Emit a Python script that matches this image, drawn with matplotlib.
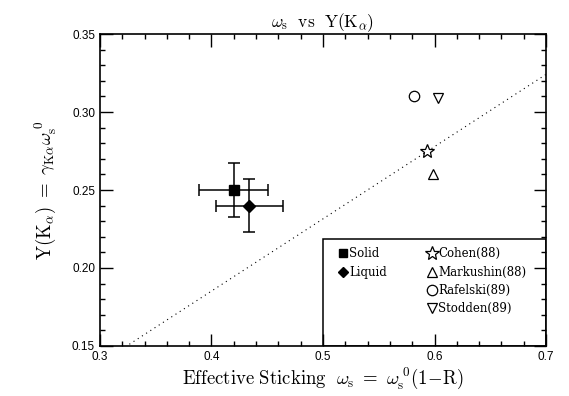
import matplotlib
matplotlib.use("Agg")
import matplotlib.pyplot as plt
from matplotlib.lines import Line2D
from matplotlib.patches import Rectangle
import numpy as np

plt.rcParams['mathtext.fontset'] = 'cm'

# measured points (this work)
solid_x, solid_y = 0.420, 0.250
solid_xerr, solid_yerr = 0.031, 0.017
liquid_x, liquid_y = 0.434, 0.240
liquid_xerr, liquid_yerr = 0.030, 0.017

# theory predictions
theory_names = ["Cohen(88)", "Markushin(88)", "Rafelski(89)", "Stodden(89)"]
theory_x = [0.593, 0.599, 0.582, 0.603]
theory_y = [0.275, 0.260, 0.310, 0.309]
theory_markers = ["*", "^", "o", "v"]

# dotted reference line  Y = slope * omega_s
slope = 0.463
line_x = np.array([0.3, 0.7])

fig = plt.figure(figsize=(5.69, 3.96), dpi=100)
ax = fig.add_axes([0.1757, 0.1263, 0.7839, 0.7878])

ax.plot(line_x, slope * line_x, linestyle=(0, (1, 3.5)), color="black", lw=0.8)

ax.errorbar(solid_x, solid_y, xerr=solid_xerr, yerr=solid_yerr, fmt="s",
            color="black", ms=6.5, capsize=4, elinewidth=1.1, capthick=1.1)
ax.errorbar(liquid_x, liquid_y, xerr=liquid_xerr, yerr=liquid_yerr, fmt="D",
            color="black", ms=6, capsize=4, elinewidth=1.1, capthick=1.1)

for x, y, m in zip(theory_x, theory_y, theory_markers):
    size = 10 if m == "*" else 7.5
    ax.plot(x, y, marker=m, ms=size, mfc="white", mec="black", mew=0.9,
            linestyle="none")

ax.set_xlim(0.3, 0.7)
ax.set_ylim(0.15, 0.35)
ax.set_xticks([0.3, 0.4, 0.5, 0.6, 0.7])
ax.set_yticks([0.15, 0.20, 0.25, 0.30, 0.35])
ax.set_xticks(np.arange(0.3, 0.7001, 0.02), minor=True)
ax.set_yticks(np.arange(0.15, 0.3501, 0.01), minor=True)
ax.xaxis.set_major_formatter(matplotlib.ticker.FormatStrFormatter("%.1f"))
ax.yaxis.set_major_formatter(matplotlib.ticker.FormatStrFormatter("%.2f"))
ax.tick_params(which="both", direction="in", top=True, right=True,
               labelsize=8.5, width=1)
ax.tick_params(which="major", length=9)
ax.tick_params(which="minor", length=3.5)
for lab in ax.get_xticklabels() + ax.get_yticklabels():
    lab.set_family("Liberation Sans")
for s in ax.spines.values():
    s.set_linewidth(1.2)

ax.set_title(r"$\omega_{\rm s}\ \ {\rm vs}\ \ {\rm Y(K_\alpha)}$", fontsize=12.5, pad=4)
ax.set_xlabel(r"$\rm Effective\ Sticking\ \ \omega_s\ =\ \omega_s^{\ 0}(1\!-\!R)$",
              fontsize=13.5, labelpad=2)
ax.set_ylabel(r"$\rm Y(K_\alpha)\ =\ \gamma_{K\alpha}\omega_s^{\ 0}$",
              fontsize=13.5, labelpad=10)

# legend box drawn in data space
ax.add_patch(Rectangle((0.5, 0.15), 0.2, 0.0688, fill=False, lw=1.1,
                       edgecolor="black", zorder=3))
handles = [
    Line2D([], [], marker="s", color="black", ls="none", ms=6),
    Line2D([], [], marker="D", color="black", ls="none", ms=5.5),
    Line2D([], [], ls="none"),
    Line2D([], [], ls="none"),
]
labels = ["Solid", "Liquid", "", ""]
for m in theory_markers:
    size = 10 if m == "*" else 7.5
    handles.append(Line2D([], [], marker=m, ms=size, mfc="white", mec="black",
                          mew=0.9, ls="none"))
labels += theory_names
ax.legend(handles, labels, ncol=2, loc="upper left",
          bbox_to_anchor=(0.508, 0.2170), bbox_transform=ax.transData,
          frameon=False, handlelength=0.8, handletextpad=0.15,
          columnspacing=3.4, labelspacing=0.45, borderpad=0,
          prop={"family": "DejaVu Serif", "size": 8.5})

fig.savefig("out.png", dpi=100)
